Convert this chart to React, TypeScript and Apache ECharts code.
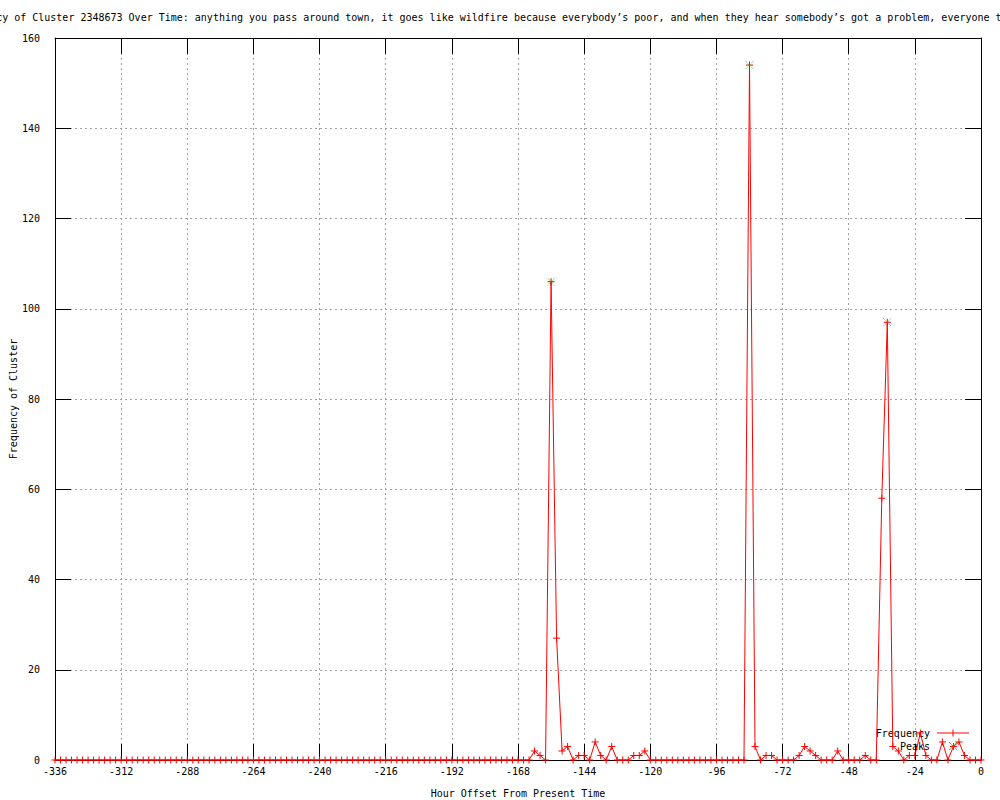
import React, { useEffect, useRef } from "react";
import * as echarts from "echarts";

const TITLE =
  "Frequency of Cluster 2348673 Over Time: anything you pass around town, it goes like wildfire because everybody’s poor, and when they hear somebody’s got a problem, everyone t";
const X_AXIS_NAME = "Hour Offset From Present Time";
const Y_AXIS_NAME = "Frequency of Cluster";
const LEGEND_LABELS = ["Frequency", "Peaks"];

// sampling: one value every 2 hours, from -336 h to 0 h
const START_HOUR = -336;
const STEP_HOURS = 2;

// one row = 24 hours (12 samples)
const frequency = [
  0, 0, 0, 0, 0, 0, 0, 0, 0, 0, 0, 0, // -336
  0, 0, 0, 0, 0, 0, 0, 0, 0, 0, 0, 0, // -312
  0, 0, 0, 0, 0, 0, 0, 0, 0, 0, 0, 0, // -288
  0, 0, 0, 0, 0, 0, 0, 0, 0, 0, 0, 0, // -264
  0, 0, 0, 0, 0, 0, 0, 0, 0, 0, 0, 0, // -240
  0, 0, 0, 0, 0, 0, 0, 0, 0, 0, 0, 0, // -216
  0, 0, 0, 0, 0, 0, 0, 0, 0, 0, 0, 0, // -192
  0, 0, 0, 2, 1, 0, 106, 27, 2, 3, 0, 1, // -168
  1, 0, 4, 1, 0, 3, 0, 0, 0, 1, 1, 2, // -144
  0, 0, 0, 0, 0, 0, 0, 0, 0, 0, 0, 0, // -120
  0, 0, 0, 0, 0, 0, 154, 3, 0, 1, 1, 0, // -96
  0, 0, 0, 1, 3, 2, 1, 0, 0, 0, 2, 0, // -72
  0, 0, 0, 1, 0, 0, 58, 97, 3, 2, 0, 1, // -48
  1, 6, 1, 0, 0, 4, 0, 3, 4, 1, 0, 0, // -24
  0, // 0
];

const peakHours = [-156, -84, -34, -10];
const peakValues = [106, 154, 97, 3];

const X_MIN = -336;
const X_MAX = 0;
const X_INTERVAL = 24;
const Y_MIN = 0;
const Y_MAX = 160;
const Y_INTERVAL = 20;

const FONT = "DejaVu Sans Mono";
const RED = "#ff0000";
const GREEN = "#00c000";

const PLUS = "path://M0 5L10 5M5 0L5 10";
const CROSS = "path://M0 0L10 10M10 0L0 10";

export default function App() {
  const ref = useRef<HTMLDivElement>(null);

  useEffect(() => {
    const chart = echarts.init(ref.current as HTMLDivElement, null, { renderer: "svg" });

    const freqData = frequency.map((v, i) => [START_HOUR + i * STEP_HOURS, v]);
    const peakData = peakHours.map((h, i) => [h, peakValues[i]]);

    const tick = { show: true, inside: true, length: 16, lineStyle: { color: "#000", width: 1 } };
    const line = { show: true, onZero: false, lineStyle: { color: "#000", width: 1 } };
    const split = { show: true, lineStyle: { color: "#a0a0a0", width: 1, type: [2, 3] } };
    const label = { color: "#000", fontFamily: FONT, fontSize: 10 };

    chart.setOption({
      animation: false,
      backgroundColor: "#ffffff",
      textStyle: { fontFamily: FONT, fontSize: 10, color: "#000" },
      grid: { left: 55, right: 19, top: 38, bottom: 40, containLabel: false },
      xAxis: [
        {
          type: "value", min: X_MIN, max: X_MAX, interval: X_INTERVAL, position: "bottom",
          axisLine: line, axisTick: tick, splitLine: split,
          axisLabel: { ...label, margin: 6 },
        },
        {
          type: "value", min: X_MIN, max: X_MAX, interval: X_INTERVAL, position: "top",
          axisLine: line, axisTick: tick, splitLine: { show: false }, axisLabel: { show: false },
        },
      ],
      yAxis: [
        {
          type: "value", min: Y_MIN, max: Y_MAX, interval: Y_INTERVAL, position: "left",
          axisLine: line, axisTick: tick, splitLine: split,
          axisLabel: { ...label, margin: 15 },
        },
        {
          type: "value", min: Y_MIN, max: Y_MAX, interval: Y_INTERVAL, position: "right",
          axisLine: line, axisTick: tick, splitLine: { show: false }, axisLabel: { show: false },
        },
      ],
      series: [
        {
          name: LEGEND_LABELS[0],
          type: "line",
          data: freqData,
          xAxisIndex: 0,
          yAxisIndex: 0,
          showAllSymbol: true,
          symbol: PLUS,
          symbolSize: 7,
          clip: false,
          lineStyle: { color: RED, width: 1 },
          itemStyle: { color: RED, borderColor: RED, borderWidth: 1 },
          z: 3,
        },
        {
          name: LEGEND_LABELS[1],
          type: "scatter",
          data: peakData,
          xAxisIndex: 0,
          yAxisIndex: 0,
          symbol: CROSS,
          symbolSize: 8,
          itemStyle: { color: GREEN, borderColor: GREEN, borderWidth: 1, borderType: [1, 1] },
          z: 4,
        },
      ],
      graphic: [
        {
          type: "text", left: -46, top: 12, z: 10,
          style: { text: TITLE, fontFamily: FONT, fontSize: 10, fill: "#000" },
        },
        {
          type: "text", x: 518, y: 793, z: 10,
          style: { text: X_AXIS_NAME, fontFamily: FONT, fontSize: 10, fill: "#000", align: "center", verticalAlign: "middle" },
        },
        {
          type: "text", x: 13, y: 399, rotation: Math.PI / 2, z: 10,
          style: { text: Y_AXIS_NAME, fontFamily: FONT, fontSize: 10, fill: "#000", align: "center", verticalAlign: "middle" },
        },
        {
          type: "group", z: 20,
          children: [
            {
              type: "text", x: 930, y: 733,
              style: { text: LEGEND_LABELS[0], fontFamily: FONT, fontSize: 10, fill: "#000", align: "right", verticalAlign: "middle" },
            },
            { type: "line", shape: { x1: 937, y1: 733, x2: 969, y2: 733 }, style: { stroke: RED, lineWidth: 1 } },
            { type: "line", shape: { x1: 953, y1: 729.5, x2: 953, y2: 736.5 }, style: { stroke: RED, lineWidth: 1 } },
            {
              type: "text", x: 930, y: 746,
              style: { text: LEGEND_LABELS[1], fontFamily: FONT, fontSize: 10, fill: "#000", align: "right", verticalAlign: "middle" },
            },
            { type: "line", shape: { x1: 949, y1: 742, x2: 957, y2: 750 }, style: { stroke: GREEN, lineWidth: 1, lineDash: [1, 1] } },
            { type: "line", shape: { x1: 957, y1: 742, x2: 949, y2: 750 }, style: { stroke: GREEN, lineWidth: 1, lineDash: [1, 1] } },
          ],
        },
      ],
    });

    return () => chart.dispose();
  }, []);

  return (
    <div
      ref={ref}
      style={{ position: "absolute", left: 0, top: 0, width: 1000, height: 800, overflow: "hidden" }}
    />
  );
}
